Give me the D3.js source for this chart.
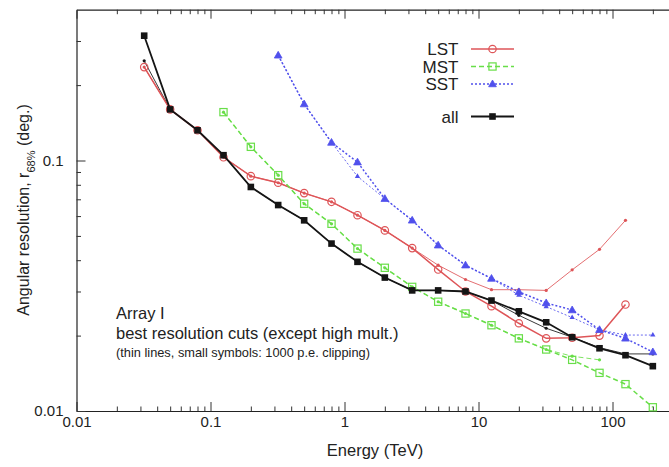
<!DOCTYPE html>
<html><head><meta charset="utf-8">
<script src="https://cdn.jsdelivr.net/npm/d3@7"></script>
<style>
html,body{margin:0;padding:0;background:#fff;}
text{font-family:"Liberation Sans",Arial,Helvetica,sans-serif;fill:#222;}
</style></head>
<body>
<svg id="chart" width="669" height="467"></svg>
<script>
// ---------- data ----------
const energies = [0.032,0.05,0.08,0.125,0.2,0.32,0.5,0.8,1.25,2,3.2,5,8,12.5,20,32,50,80,125,200];
const lstThick = [0.236,0.160,0.132,0.103,0.0866,0.0815,0.0741,0.0684,0.0605,0.0526,0.0447,0.0367,0.0300,0.0262,0.0224,0.0195,0.0196,0.0200,0.0266,null];
const lstThin  = [0.236,0.160,0.132,0.103,0.0866,0.0815,0.0741,0.0684,0.0605,0.0526,0.0447,0.0382,0.0335,0.0305,0.0305,0.0303,0.0366,0.0442,0.0577,null];
const mstThick = [null,null,null,0.156,0.1134,0.0874,0.0672,0.0559,0.0445,0.0373,0.0313,0.0273,0.0245,0.0220,0.0195,0.0176,0.0160,0.0142,0.0128,0.01035];
const mstThin  = [null,null,null,0.156,0.1134,0.0874,0.0672,0.0559,0.0445,0.0373,0.0313,0.0273,0.0245,0.0220,0.0195,0.0176,0.01655,0.0160,null,null];
const sstThick = [null,null,null,null,null,0.263,0.168,0.118,0.0985,0.0704,0.0577,0.0459,0.0382,0.0338,0.0299,0.0270,0.0253,0.0211,0.0195,0.0172];
const sstThin  = [null,null,null,null,null,0.263,0.168,0.118,0.0864,0.0704,0.0577,0.0459,0.0382,0.0338,0.0290,0.0261,0.0236,0.0211,0.0201,0.0201];
const allThick = [0.315,0.160,0.132,0.105,0.0784,0.0664,0.0577,0.0466,0.0394,0.0341,0.0303,0.0303,0.0300,0.0276,0.0250,0.0226,0.0197,0.0178,0.0167,0.0151];
const allThin  = [0.250,0.160,0.132,0.105,0.0784,0.0664,0.0577,0.0466,0.0394,0.0341,0.0303,0.0303,0.0300,0.0276,0.0241,0.0214,0.0197,0.0179,0.0169,0.0169];

const seriesNames = ["LST","MST","SST","all"];
const xMajorTicks = [0.01,0.1,1,10,100];
const yMajorTicks = [0.01,0.1];
const xLabel = "Energy (TeV)";
const annotation = ["Array I","best resolution cuts (except high mult.)","(thin lines, small symbols: 1000 p.e. clipping)"];

// ---------- layout ----------
const svg = d3.select("#chart");
const L = 76.5, B = 411, T = 9.7;
const x = d3.scaleLog().domain([0.01, 300]).range([L, L + 134 * Math.log10(30000)]);
const y = d3.scaleLog().domain([0.01, 0.4]).range([B, T]);
const R = x(300);

const styles = {
  LST: {color:"#de5558", dash:null, marker:"circle"},
  MST: {color:"#68de48", dash:"5,3", marker:"square"},
  SST: {color:"#5050ec", dash:"2,2", marker:"triangle"},
  all: {color:"#151515", dash:null, marker:"fsquare"}
};

// minor ticks
function minors(lo, hi) {
  const out = [];
  for (let d = Math.floor(Math.log10(lo)); d <= Math.ceil(Math.log10(hi)); d++) {
    for (let k = 2; k <= 9; k++) { const v = k * Math.pow(10, d); if (v > lo && v < hi) out.push(v); }
  }
  return out;
}
const xMinor = minors(0.01, 300);
const yMinor = minors(0.01, 0.4).filter(v => v < 0.39);

// ---------- axes ----------
const fmt = d => d3.format("~g")(d);
function styleAxis(g){ g.select(".domain").attr("stroke","#222").attr("stroke-width",1.2); g.selectAll(".tick line").attr("stroke","#333"); g.selectAll("text").style("font-size","15px").attr("fill","#222"); }

svg.append("g").attr("transform",`translate(0,${B})`)
  .call(d3.axisBottom(x).tickValues(xMajorTicks).tickFormat(fmt).tickSizeInner(-9).tickSizeOuter(0).tickPadding(5))
  .call(styleAxis);
svg.append("g").attr("transform",`translate(0,${B})`)
  .call(d3.axisBottom(x).tickValues(xMinor).tickFormat("").tickSizeInner(-4.5).tickSizeOuter(0))
  .call(styleAxis).select(".domain").remove();
svg.append("g").attr("transform",`translate(0,${T})`)
  .call(d3.axisTop(x).tickValues(xMajorTicks).tickFormat("").tickSizeInner(-9).tickSizeOuter(0))
  .call(styleAxis);
svg.append("g").attr("transform",`translate(0,${T})`)
  .call(d3.axisTop(x).tickValues(xMinor).tickFormat("").tickSizeInner(-4.5).tickSizeOuter(0))
  .call(styleAxis).select(".domain").remove();
svg.append("g").attr("transform",`translate(${L},0)`)
  .call(d3.axisLeft(y).tickValues(yMajorTicks).tickFormat(fmt).tickSizeInner(-9).tickSizeOuter(0).tickPadding(13))
  .call(styleAxis);
svg.append("g").attr("transform",`translate(${L},0)`)
  .call(d3.axisLeft(y).tickValues(yMinor).tickFormat("").tickSizeInner(-4.5).tickSizeOuter(0))
  .call(styleAxis).select(".domain").remove();
svg.append("g").attr("transform",`translate(${R},0)`)
  .call(d3.axisRight(y).tickValues(yMajorTicks.concat(yMinor)).tickFormat("").tickSizeInner(-6).tickSizeOuter(0))
  .call(styleAxis);

// axis titles
svg.append("text").attr("x",375).attr("y",456).attr("text-anchor","middle")
  .style("font-size","16.5px").text(xLabel);
const yl = svg.append("text").attr("transform","translate(29,210) rotate(-90)").attr("text-anchor","middle")
  .style("font-size","16px");
yl.append("tspan").text("Angular resolution, r");
yl.append("tspan").attr("baseline-shift","sub").style("font-size","11px").text("68%");
yl.append("tspan").text(" (deg.)");

// annotation
svg.append("text").attr("x",116).attr("y",319).style("font-size","16.5px").text(annotation[0]);
svg.append("text").attr("x",116).attr("y",339).style("font-size","16.5px").text(annotation[1]);
svg.append("text").attr("x",116).attr("y",357).style("font-size","12.8px").attr("fill","#333").text(annotation[2]);

// ---------- series ----------
const plot = svg.append("g");
const line = d3.line().defined(d => d.v != null).x(d => x(d.e)).y(d => y(d.v));
function pts(arr){ return energies.map((e,i)=>({e, v:arr[i]})); }

function marker(g, type, cx, cy, color, small) {
  if (small) {
    if (type === "triangle") {
      g.append("path").attr("d", d3.symbol(d3.symbolTriangle, 12)()).attr("transform",`translate(${cx},${cy})`).attr("fill",color);
    } else {
      g.append("circle").attr("cx",cx).attr("cy",cy).attr("r",1.6).attr("fill",color);
    }
    return;
  }
  if (type === "circle") g.append("circle").attr("cx",cx).attr("cy",cy).attr("r",3.7).attr("fill","none").attr("stroke",color).attr("stroke-width",1.2);
  else if (type === "square") g.append("rect").attr("x",cx-3.6).attr("y",cy-3.6).attr("width",7.2).attr("height",7.2).attr("fill","none").attr("stroke",color).attr("stroke-width",1.2);
  else if (type === "triangle") g.append("path").attr("d", d3.symbol(d3.symbolTriangle, 26)()).attr("transform",`translate(${cx},${cy+0.5})`).attr("fill",color).attr("stroke",color).attr("stroke-width",0.8);
  else if (type === "fsquare") g.append("rect").attr("x",cx-3.3).attr("y",cy-3.3).attr("width",6.6).attr("height",6.6).attr("fill",color);
}

function drawSeries(name, arr, thin) {
  const st = styles[name];
  const g = plot.append("g");
  const data = pts(arr);
  g.append("path").datum(data).attr("d", line).attr("fill","none")
    .attr("stroke", st.color).attr("stroke-width", thin ? 1 : (name === "all" ? 1.8 : 1.5))
    .attr("stroke-opacity", thin ? 0.85 : 1)
    .attr("stroke-dasharray", st.dash);
  data.filter(d => d.v != null).forEach(d => marker(g, st.marker, x(d.e), y(d.v), st.color, thin));
}

const thinSets = {LST: lstThin, MST: mstThin, SST: sstThin, all: allThin};
const thickSets = {LST: lstThick, MST: mstThick, SST: sstThick, all: allThick};
seriesNames.forEach(n => drawSeries(n, thinSets[n], true));
seriesNames.forEach(n => drawSeries(n, thickSets[n], false));

// ---------- legend ----------
const legY = [49, 66.5, 84, 116.5];
seriesNames.forEach((n, i) => {
  const st = styles[n];
  const g = svg.append("g");
  g.append("text").attr("x",458.5).attr("y",legY[i]).attr("dy","0.36em").attr("text-anchor","end")
    .style("font-size","17px").text(n);
  g.append("line").attr("x1",471).attr("x2",514).attr("y1",legY[i]).attr("y2",legY[i])
    .attr("stroke",st.color).attr("stroke-width", n === "all" ? 1.8 : 1.5).attr("stroke-dasharray", st.dash);
  marker(g, st.marker, 492.5, legY[i], st.color, false);
});
</script>
</body></html>
